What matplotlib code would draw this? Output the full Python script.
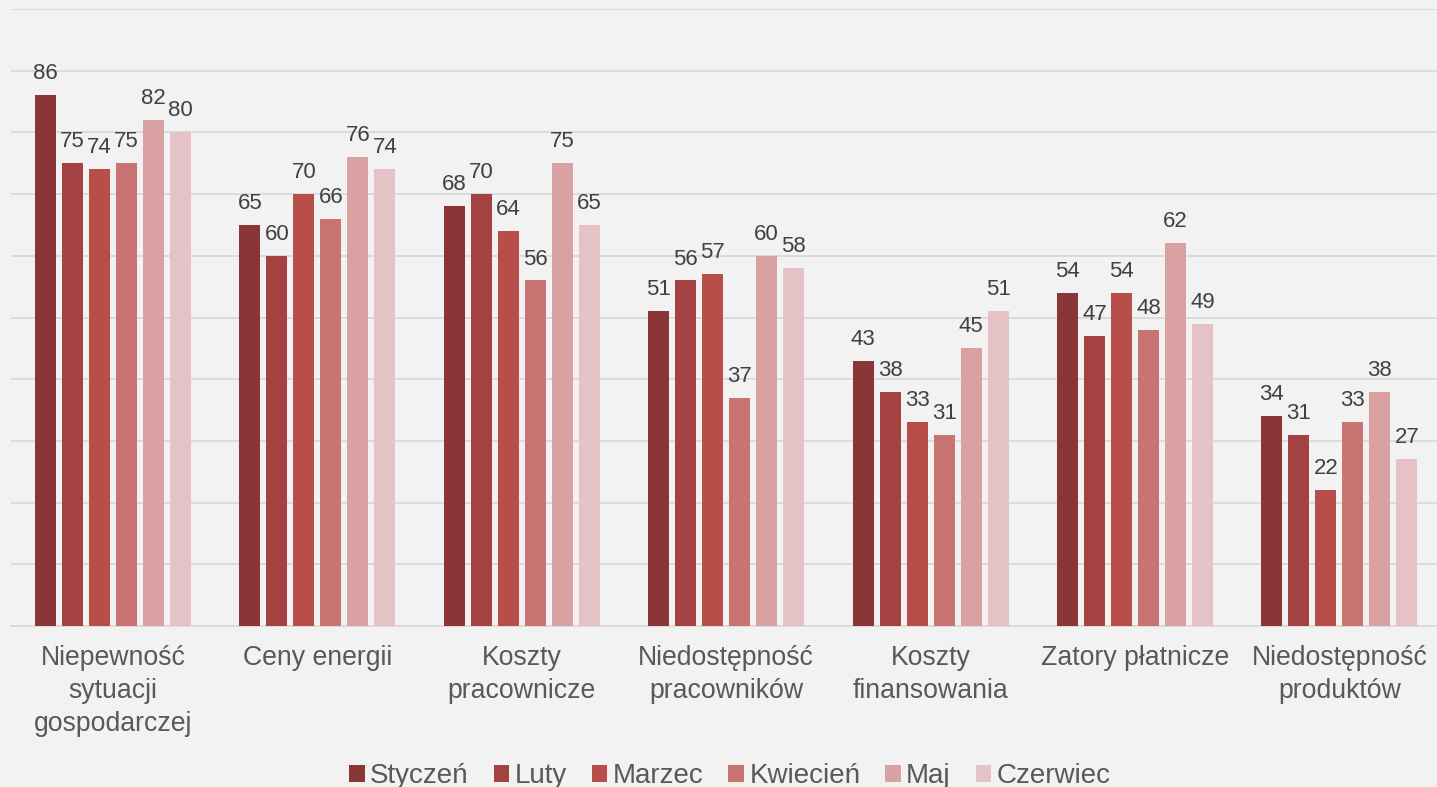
import matplotlib
matplotlib.use("Agg")
import matplotlib.pyplot as plt
import numpy as np

categories = ["Niepewność\nsytuacji\ngospodarczej", "Ceny energii", "Koszty\npracownicze",
              "Niedostępność\npracowników", "Koszty\nfinansowania", "Zatory płatnicze",
              "Niedostępność\nproduktów"]
series_names = ["Styczeń", "Luty", "Marzec", "Kwiecień", "Maj", "Czerwiec"]
styczen = [86, 65, 68, 51, 43, 54, 34]
luty = [75, 60, 70, 56, 38, 47, 31]
marzec = [74, 70, 64, 57, 33, 54, 22]
kwiecien = [75, 66, 56, 37, 31, 48, 33]
maj = [82, 76, 75, 60, 45, 62, 38]
czerwiec = [80, 74, 65, 58, 51, 49, 27]
series_values = [styczen, luty, marzec, kwiecien, maj, czerwiec]
colors = ["#8B3636", "#A34241", "#B84E4A", "#C97372", "#D9A1A2", "#E5C2C5"]

plt.rcParams['font.family'] = ['Liberation Sans', 'DejaVu Sans']

W, H = 1437, 787
fig = plt.figure(figsize=(W / 100, H / 100), dpi=100, facecolor="#F2F2F2")
x0, x1 = 10.8, 1441.6
ax = fig.add_axes([x0 / W, (H - 626) / H, (x1 - x0) / W, (626 - 9) / H])
ax.set_facecolor("#F2F2F2")

x = np.arange(len(categories))
pitch = 0.132
width = 0.103
for j, (name, vals, c) in enumerate(zip(series_names, series_values, colors)):
    pos = x + (j - 2.5) * pitch
    ax.bar(pos, vals, width=width, color=c, label=name, zorder=3)
    for p, v in zip(pos, vals):
        ax.annotate(str(v), (p, v), xytext=(0, 11.5), textcoords="offset points",
                    ha="center", va="baseline", fontsize=16, color="#404040")

ax.set_xlim(-0.5, len(categories) - 0.5)
ax.set_ylim(0, 100)
ax.set_yticks(np.arange(0, 101, 10))
ax.yaxis.grid(True, color="#D9D9D9", linewidth=1.3, zorder=0)
ax.set_axisbelow(True)
ax.tick_params(axis="y", left=False, labelleft=False)
ax.tick_params(axis="x", length=0, pad=14, labelsize=19.2, labelcolor="#595959")
ax.set_xticks(x)
ax.set_xticklabels(categories, linespacing=1.35)
for s in ["top", "right", "left"]:
    ax.spines[s].set_visible(False)
ax.spines["bottom"].set_color("#D9D9D9")
ax.spines["bottom"].set_linewidth(1.3)

fig.legend(loc="center", bbox_to_anchor=(730 / W, 11 / H), ncol=6, frameon=False,
           fontsize=20, handlelength=0.55, handleheight=0.55, handletextpad=0.2,
           columnspacing=0.9, labelcolor="#595959")

fig.savefig("out.png", dpi=100, facecolor=fig.get_facecolor())
